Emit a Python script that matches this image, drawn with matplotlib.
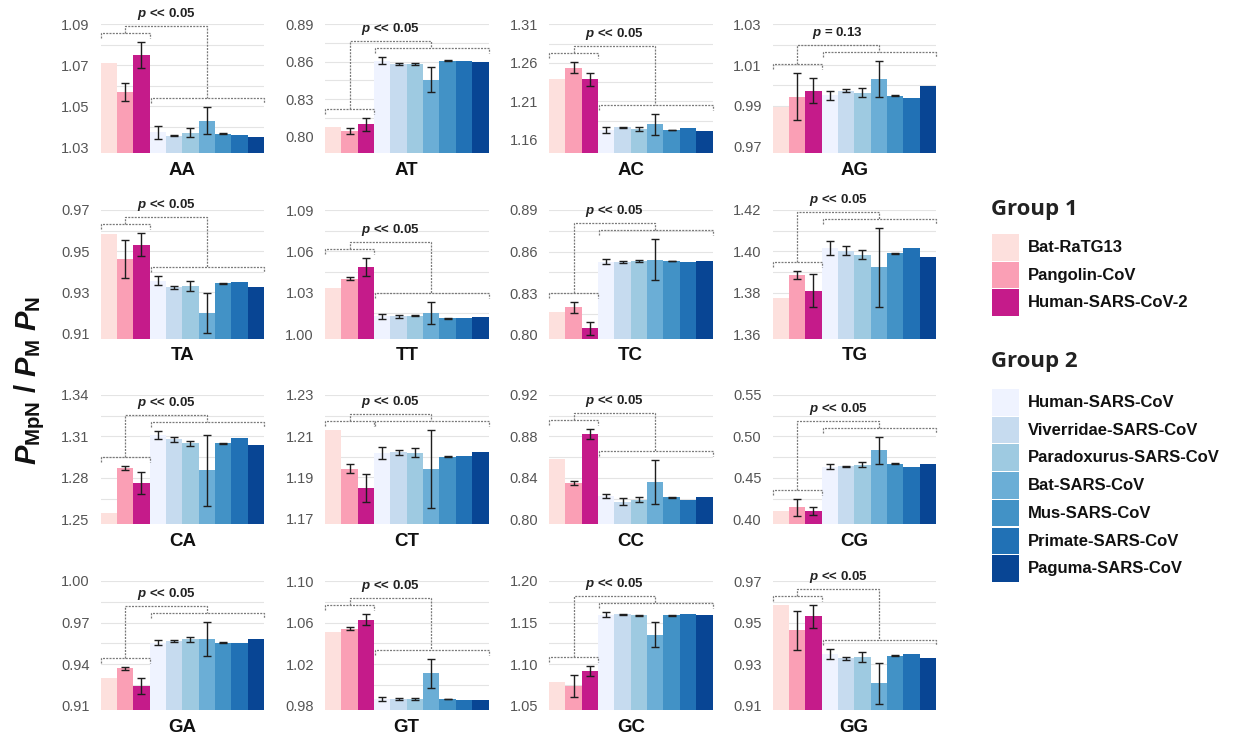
import matplotlib
matplotlib.use("Agg")
import matplotlib.pyplot as plt
from matplotlib.patches import Rectangle
from matplotlib.ticker import FixedLocator

plt.rcParams['font.family'] = ['Liberation Sans', 'DejaVu Sans']
plt.rcParams['mathtext.fontset'] = 'custom'
plt.rcParams['mathtext.it'] = 'Liberation Sans:italic:bold'
plt.rcParams['mathtext.rm'] = 'Liberation Sans:bold'
plt.rcParams['mathtext.bf'] = 'Liberation Sans:bold'

# ---- strains -------------------------------------------------------------
group1 = ["Bat-RaTG13", "Pangolin-CoV", "Human-SARS-CoV-2"]
group2 = ["Human-SARS-CoV", "Viverridae-SARS-CoV", "Paradoxurus-SARS-CoV",
          "Bat-SARS-CoV", "Mus-SARS-CoV", "Primate-SARS-CoV", "Paguma-SARS-CoV"]
group1_colors = ["#fde0dd", "#fa9fb5", "#c51b8a"]
group2_colors = ["#eff3ff", "#c6dbef", "#9ecae1", "#6baed6", "#4292c6", "#2171b5", "#084594"]

dinucleotides = ["AA", "AT", "AC", "AG",
                 "TA", "TT", "TC", "TG",
                 "CA", "CT", "CC", "CG",
                 "GA", "GT", "GC", "GG"]

# ---- mean ratio and error per strain (group 1 then group 2) ---------------
aa_mean = [1.0710, 1.0569, 1.0751, 1.0374, 1.0358, 1.0373, 1.0431, 1.0367, 1.0362, 1.0350]
aa_err = [0, 0.0043, 0.0063, 0.0033, 0.0004, 0.0024, 0.0065, 0.0003, 0, 0]
at_mean = [0.8080, 0.8048, 0.8099, 0.8609, 0.8582, 0.8582, 0.8454, 0.8609, 0.8609, 0.8596]
at_err = [0, 0.0024, 0.0053, 0.0027, 0.0010, 0.0010, 0.0100, 0.0003, 0, 0]
ac_mean = [1.2387, 1.2538, 1.2387, 1.1730, 1.1764, 1.1742, 1.1803, 1.1730, 1.1751, 1.1721]
ac_err = [0, 0.0069, 0.0084, 0.0043, 0.0010, 0.0028, 0.0134, 0.0003, 0, 0]
ag_mean = [0.9896, 0.9945, 0.9975, 0.9952, 0.9975, 0.9965, 1.0030, 0.9949, 0.9940, 0.9998]
ag_err = [0, 0.0115, 0.0060, 0.0023, 0.0007, 0.0020, 0.0088, 0.0003, 0, 0]
ta_mean = [0.9583, 0.9462, 0.9530, 0.9356, 0.9324, 0.9332, 0.9199, 0.9343, 0.9348, 0.9324]
ta_err = [0, 0.0094, 0.0056, 0.0021, 0.0008, 0.0024, 0.0099, 0.0003, 0, 0]
tt_mean = [1.0334, 1.0401, 1.0484, 1.0128, 1.0128, 1.0133, 1.0152, 1.0114, 1.0119, 1.0126]
tt_err = [0, 0.0012, 0.0065, 0.0018, 0.0008, 0.0005, 0.0081, 0.0003, 0, 0]
tc_mean = [0.8166, 0.8197, 0.8046, 0.8527, 0.8527, 0.8534, 0.8541, 0.8532, 0.8522, 0.8532]
tc_err = [0, 0.0038, 0.0048, 0.0016, 0.0008, 0.0008, 0.0147, 0.0003, 0, 0]
tg_mean = [1.3773, 1.3885, 1.3810, 1.4015, 1.4003, 1.3984, 1.3923, 1.3990, 1.4015, 1.3971]
tg_err = [0, 0.0019, 0.0078, 0.0035, 0.0023, 0.0022, 0.0190, 0.0003, 0, 0]
ca_mean = [1.2544, 1.2872, 1.2763, 1.3113, 1.3079, 1.3049, 1.2855, 1.3049, 1.3086, 1.3037]
ca_err = [0, 0.0017, 0.0079, 0.0028, 0.0016, 0.0020, 0.0259, 0.0004, 0, 0]
ct_mean = [1.2128, 1.1940, 1.1847, 1.2016, 1.2022, 1.2019, 1.1940, 1.2000, 1.2003, 1.2022]
ct_err = [0, 0.0022, 0.0067, 0.0029, 0.0012, 0.0022, 0.0192, 0.0003, 0, 0]
cc_mean = [0.8584, 0.8350, 0.8820, 0.8224, 0.8172, 0.8188, 0.8360, 0.8211, 0.8188, 0.8211]
cc_err = [0, 0.0023, 0.0049, 0.0020, 0.0037, 0.0023, 0.0210, 0.0005, 0, 0]
cg_mean = [0.4102, 0.4146, 0.4102, 0.4633, 0.4641, 0.4661, 0.4831, 0.4669, 0.4633, 0.4669]
cg_err = [0, 0.0101, 0.0045, 0.0030, 0.0006, 0.0030, 0.0168, 0.0005, 0, 0]
ga_mean = [0.9297, 0.9369, 0.9242, 0.9556, 0.9566, 0.9578, 0.9580, 0.9556, 0.9554, 0.9580]
ga_err = [0, 0.0012, 0.0060, 0.0016, 0.0005, 0.0017, 0.0124, 0.0003, 0, 0]
gt_mean = [1.0510, 1.0542, 1.0629, 0.9864, 0.9864, 0.9864, 1.0110, 0.9864, 0.9858, 0.9851]
gt_err = [0, 0.0016, 0.0056, 0.0018, 0.0006, 0.0006, 0.0139, 0.0004, 0, 0]
gc_mean = [1.0780, 1.0740, 1.0916, 1.1596, 1.1600, 1.1588, 1.1356, 1.1588, 1.1608, 1.1596]
gc_err = [0, 0.0134, 0.0060, 0.0030, 0.0006, 0.0008, 0.0154, 0.0004, 0, 0]
gg_mean = [0.9583, 0.9463, 0.9530, 0.9348, 0.9327, 0.9335, 0.9207, 0.9340, 0.9348, 0.9327]
gg_err = [0, 0.0093, 0.0056, 0.0024, 0.0008, 0.0024, 0.0098, 0.0003, 0, 0]

means = [aa_mean, at_mean, ac_mean, ag_mean, ta_mean, tt_mean, tc_mean, tg_mean,
         ca_mean, ct_mean, cc_mean, cg_mean, ga_mean, gt_mean, gc_mean, gg_mean]
errors = [aa_err, at_err, ac_err, ag_err, ta_err, tt_err, tc_err, tg_err,
          ca_err, ct_err, cc_err, cg_err, ga_err, gt_err, gc_err, gg_err]

# ---- y axis ticks and lower limit of each panel ---------------------------
y_ticks = [[1.03, 1.05, 1.07, 1.09], [0.80, 0.83, 0.86, 0.89], [1.16, 1.21, 1.26, 1.31], [0.97, 0.99, 1.01, 1.03],
           [0.91, 0.93, 0.95, 0.97], [1.00, 1.03, 1.06, 1.09], [0.80, 0.83, 0.86, 0.89], [1.36, 1.38, 1.40, 1.42],
           [1.25, 1.28, 1.31, 1.34], [1.17, 1.19, 1.21, 1.23], [0.80, 0.84, 0.88, 0.92], [0.40, 0.45, 0.50, 0.55],
           [0.91, 0.94, 0.97, 1.00], [0.98, 1.02, 1.06, 1.10], [1.05, 1.10, 1.15, 1.20], [0.91, 0.93, 0.95, 0.97]]
y_min = [1.0272, 0.7866, 1.1427, 0.9667,
         0.9072, 0.9964, 0.7969, 1.3576,
         1.2466, 1.1672, 0.7955, 0.3943,
         0.9069, 0.9758, 1.0448, 0.9079]
p_labels = ["$p$ << 0.05", "$p$ << 0.05", "$p$ << 0.05", "$p$ = 0.13",
            "$p$ << 0.05", "$p$ << 0.05", "$p$ << 0.05", "$p$ << 0.05",
            "$p$ << 0.05", "$p$ << 0.05", "$p$ << 0.05", "$p$ << 0.05",
            "$p$ << 0.05", "$p$ << 0.05", "$p$ << 0.05", "$p$ << 0.05"]

# ---- figure layout (pixels) -----------------------------------------------
W, H = 1241, 742
fig = plt.figure(figsize=(W / 100, H / 100), dpi=100)
col_left = [100.5, 325.0, 549.0, 772.5]
row_bottom = [153.3, 339.0, 524.0, 710.0]
ax_w, ax_h = 163.5, 129.0

overlay = fig.add_axes([0, 0, 1, 1], zorder=-1)
overlay.set_xlim(0, W)
overlay.set_ylim(H, 0)
overlay.axis("off")

colors = group1_colors + group2_colors
n1, n2 = len(group1), len(group2)
xs = list(range(n1 + n2))
bracket_kw = dict(color="#7a7a7a", lw=0.9, linestyle=(0, (1.6, 1.0)), clip_on=False, zorder=4)

for i, name in enumerate(dinucleotides):
    r, c = divmod(i, 4)
    left, bottom = col_left[c], row_bottom[r]
    ax = fig.add_axes([left / W, 1 - bottom / H, ax_w / W, ax_h / H])
    vals, errs, ticks = means[i], errors[i], y_ticks[i]
    ylo, yhi = y_min[i], ticks[-1]
    ax.set_xlim(-0.5, n1 + n2 - 0.5)
    ax.set_ylim(ylo, yhi)

    ax.bar(xs, [v - ylo for v in vals], bottom=ylo, width=1.0, color=colors,
           edgecolor="none", zorder=2)
    ex = [x for x, e in zip(xs, errs) if e > 0]
    ev = [v for v, e in zip(vals, errs) if e > 0]
    ee = [e for e in errs if e > 0]
    ax.errorbar(ex, ev, yerr=ee, fmt="none", ecolor="#1e1e1e", elinewidth=1.0,
                capsize=2.6, capthick=1.0, zorder=3)

    # axes styling
    for s in ax.spines.values():
        s.set_visible(False)
    ax.set_xticks([])
    ax.yaxis.set_major_locator(FixedLocator(ticks))
    step = ticks[1] - ticks[0]
    ax.yaxis.set_minor_locator(FixedLocator([t + step / 2 for t in ticks[:-1]]))
    ax.set_yticklabels([f"{t:.2f}" for t in ticks])
    ax.tick_params(axis="y", which="both", length=0, pad=8, labelsize=10.5, labelcolor="#555555")
    ax.grid(axis="y", which="both", color="#e4e4e4", lw=0.8, zorder=0)
    ax.set_axisbelow(True)

    # significance brackets between the two groups
    px = (yhi - ylo) / ax_h
    top1 = max(v + e for v, e in zip(vals[:n1], errs[:n1]))
    top2 = max(v + e for v, e in zip(vals[n1:], errs[n1:]))
    b1 = top1 + 9 * px
    b2 = top2 + 9 * px
    tick = 5 * px
    conn = max(b1, b2) + 7 * px
    x1a, x1b = -0.5, n1 - 0.5
    x2a, x2b = n1 - 0.5, n1 + n2 - 0.5
    m1, m2 = (x1a + x1b) / 2, (x2a + x2b) / 2
    ax.plot([x1a, x1a, x1b, x1b], [b1 - tick, b1, b1, b1 - tick], **bracket_kw)
    ax.plot([x2a + 0.08, x2a + 0.08, x2b, x2b], [b2 - tick, b2, b2, b2 - tick], **bracket_kw)
    ax.plot([m1, m1, m2, m2], [b1, conn, conn, b2], **bracket_kw)
    ax.text((m1 + m2) / 2, conn + 4 * px, p_labels[i], ha="center", va="bottom",
            fontsize=9.5, fontweight="bold", color="#222222", clip_on=False)

    # panel label
    overlay.text(left + ax_w / 2, bottom + 17, name, ha="center", va="center",
                 fontsize=13.5, fontweight="bold", color="#111111")

# shared y label
overlay.text(30, 380, r"$P_{\mathrm{MpN}}$ $/$ $P_{\mathrm{M}}\ P_{\mathrm{N}}$", rotation=90,
             ha="center", va="center", fontsize=21, color="#111111")

# legend
def legend_block(title, names, cols, title_y, first_y):
    overlay.text(991, title_y, title, ha="left", va="center", fontsize=16,
                 fontweight="bold", family=["Open Sans", "DejaVu Sans"], color="#222222")
    for k, (nm, col) in enumerate(zip(names, cols)):
        y0 = first_y + k * 27.7
        overlay.add_patch(Rectangle((992, y0), 27, 26.5, facecolor=col, edgecolor="none"))
        overlay.text(1028, y0 + 13.5, nm, ha="left", va="center", fontsize=12,
                     fontweight="bold", color="#111111")

legend_block("Group 1", group1, group1_colors, 209, 234)
legend_block("Group 2", group2, group2_colors, 362, 389)

fig.savefig("out.png", dpi=100, facecolor="white")
